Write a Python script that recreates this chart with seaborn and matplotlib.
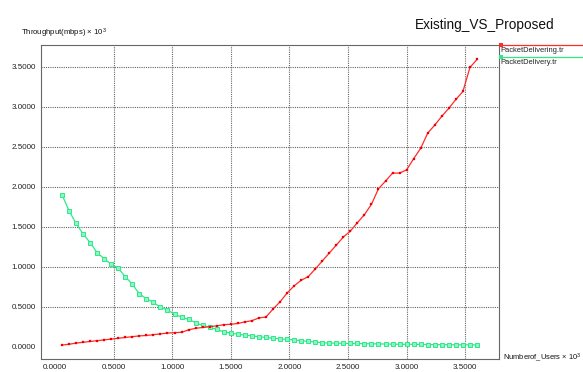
import matplotlib
matplotlib.use("Agg")
import matplotlib.pyplot as plt
from matplotlib.lines import Line2D
import pandas as pd
import seaborn as sns

# Number of users (x 10^3)
users = [0.06, 0.12, 0.18, 0.24, 0.30, 0.36, 0.42, 0.48, 0.54, 0.60,
         0.66, 0.72, 0.78, 0.84, 0.90, 0.96, 1.02, 1.08, 1.14, 1.20,
         1.26, 1.32, 1.38, 1.44, 1.50, 1.56, 1.62, 1.68, 1.74, 1.80,
         1.86, 1.92, 1.98, 2.04, 2.10, 2.16, 2.22, 2.28, 2.34, 2.40,
         2.46, 2.52, 2.58, 2.64, 2.70, 2.76, 2.82, 2.88, 2.94, 3.00,
         3.06, 3.12, 3.18, 3.24, 3.30, 3.36, 3.42, 3.48, 3.54, 3.60]

# Throughput (mbps x 10^3), proposed scheme
delivering = [0.020, 0.030, 0.045, 0.055, 0.065, 0.075, 0.085, 0.095, 0.105, 0.115,
              0.125, 0.135, 0.140, 0.150, 0.160, 0.170, 0.175, 0.180, 0.210, 0.230,
              0.240, 0.250, 0.260, 0.275, 0.280, 0.290, 0.310, 0.325, 0.360, 0.370,
              0.470, 0.560, 0.670, 0.760, 0.830, 0.875, 0.970, 1.070, 1.170, 1.270,
              1.370, 1.445, 1.550, 1.650, 1.780, 1.975, 2.070, 2.170, 2.170, 2.210,
              2.350, 2.480, 2.670, 2.770, 2.880, 2.980, 3.090, 3.190, 3.490, 3.590]

# Throughput (mbps x 10^3), existing scheme
delivery = [1.900, 1.700, 1.540, 1.410, 1.300, 1.175, 1.100, 1.030, 0.980, 0.875,
            0.780, 0.660, 0.600, 0.555, 0.490, 0.460, 0.405, 0.370, 0.340, 0.300,
            0.265, 0.245, 0.215, 0.185, 0.170, 0.155, 0.145, 0.135, 0.125, 0.115,
            0.105, 0.100, 0.090, 0.085, 0.075, 0.065, 0.060, 0.050, 0.045, 0.045,
            0.042, 0.040, 0.040, 0.038, 0.036, 0.035, 0.033, 0.032, 0.030, 0.030,
            0.030, 0.028, 0.027, 0.026, 0.025, 0.025, 0.024, 0.023, 0.022, 0.022]

series_names = ["PacketDelivering.tr", "PacketDelivery.tr"]
ticks = [0.0, 0.5, 1.0, 1.5, 2.0, 2.5, 3.0, 3.5]

RED = "#ff2a2a"
RED_DOT = "#ee0000"
GREEN = "#2ee88a"
GREEN_FACE = "#8ff5c0"
GRID = "#666666"
FONT = ["Liberation Sans", "DejaVu Sans"]

sns.set_style("white")
plt.rcParams["font.family"] = FONT
plt.rcParams["mathtext.fontset"] = "custom"
plt.rcParams["mathtext.rm"] = "Liberation Sans"
plt.rcParams["mathtext.it"] = "Liberation Sans"
plt.rcParams["mathtext.bf"] = "Liberation Sans"

fig = plt.figure(figsize=(5.83, 3.72), dpi=100)
ax = fig.add_axes([41 / 583, 1 - 359 / 372, (499 - 41) / 583, (359 - 45) / 372])

df = pd.DataFrame({"users": users, "delivering": delivering, "delivery": delivery})

sns.lineplot(data=df, x="users", y="delivering", ax=ax, color=RED, lw=0.9,
             marker="s", markersize=2.0, markeredgewidth=0.2,
             markerfacecolor=RED_DOT, markeredgecolor=RED_DOT, zorder=4)
sns.lineplot(data=df, x="users", y="delivery", ax=ax, color=GREEN, lw=0.9,
             marker="s", markersize=3.4, markeredgewidth=0.7,
             markerfacecolor=GREEN_FACE, markeredgecolor=GREEN, zorder=3)

ax.set_xlim(-0.119, 3.788)
ax.set_ylim(-0.154, 3.771)
ax.set_xticks(ticks)
ax.set_yticks(ticks)
ax.set_xticklabels([f"{t:.4f}" for t in ticks])
ax.set_yticklabels([f"{t:.4f}" for t in ticks])
ax.tick_params(axis="both", labelsize=5.8, labelcolor="#222222", length=2,
               width=0.6, pad=1.5, direction="out", color=GRID)
ax.set_xlabel("")
ax.set_ylabel("")

# grid lines at the non-zero ticks only
for t in ticks[1:]:
    ax.axvline(t, color=GRID, lw=0.8, ls=(0, (1, 1)), zorder=1)
    ax.axhline(t, color=GRID, lw=0.8, ls=(0, (1, 1)), zorder=1)

for sp in ax.spines.values():
    sp.set_color(GRID)
    sp.set_linewidth(0.8)
    sp.set_linestyle((0, (1, 1)))

W, H = 583, 372


def fx(px):
    return px / W


def fy(py):
    return 1 - py / H


fig.text(fx(485), fy(25), "Existing_VS_Proposed", fontsize=9.8,
         ha="center", va="center", color="#111111")
fig.text(fx(21), fy(33.5), r"Throughput(mbps) $\times$ 10$^{3}$", fontsize=5.6,
         ha="left", va="center", color="#111111")
fig.text(fx(581), fy(358), r"Numberof_Users $\times$ 10$^{3}$", fontsize=5.4,
         ha="right", va="center", color="#111111")

# legend entries to the right of the plot
legend_rows = [(45, 50, RED, series_names[0]), (57, 62, GREEN, series_names[1])]
for line_y, text_y, col, name in legend_rows:
    fig.add_artist(Line2D([fx(500), fx(583)], [fy(line_y), fy(line_y)],
                          color=col, lw=0.9, transform=fig.transFigure))
    fig.add_artist(Line2D([fx(500.5)], [fy(line_y)], color=col, marker="s",
                          markersize=2.5, markeredgewidth=0,
                          transform=fig.transFigure))
    fig.text(fx(500.5), fy(text_y), name, fontsize=5.4, ha="left",
             va="center", color="#222222")

fig.savefig("out.png", dpi=100, facecolor="white")
